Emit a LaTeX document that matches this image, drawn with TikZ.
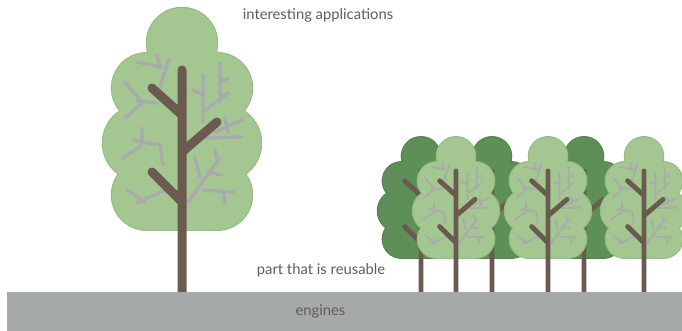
\documentclass[tikz,border=0pt]{standalone}
\usepackage{fontspec}
\setmainfont{Lato}

\definecolor{leafLight}{HTML}{A4C690}
\definecolor{leafLightEdge}{HTML}{95BC82}
\definecolor{leafDark}{HTML}{5E8F57}
\definecolor{leafDarkEdge}{HTML}{52834B}
\definecolor{bark}{HTML}{6A5A50}
\definecolor{twig}{HTML}{A9AAAD}
\definecolor{soil}{HTML}{A6A9A9}
\definecolor{caption}{HTML}{5E5E5E}

\tikzset{
  caption/.style={text=caption, inner sep=0pt, font=\fontsize{14.8}{17}\selectfont},
}

% Crown: a round top plus three horizontal capsules; the edge colour is
% painted first, slightly wider, so it only shows around the outside.
\newcommand\crown[3]{%
  \draw[#2, line width=2.4pt] (182,43) circle[radius=35];
  \foreach \yy/\hx/\rr in {88/35/35, 143/41/38, 195/35/35}
    \draw[#2, line cap=round, line width=(2*\rr*#3)*1pt+2.4pt] (182-\hx,\yy) -- (182+\hx,\yy);
  \fill[#1] (182,43) circle[radius=35];
  \foreach \yy/\hx/\rr in {88/35/35, 143/41/38, 195/35/35}
    \draw[#1, line cap=round, line width=(2*\rr*#3)*1pt] (182-\hx,\yy) -- (182+\hx,\yy);
}

% Thin grey twigs inside the crown
\newcommand\twigs[1]{%
  \draw[twig, line cap=round, line width=(3.4*#1)*1pt]
    (137,62) -- (162,67)  (157,55) -- (160,68)  (169,59) -- (160,87)
    (125,82) -- (140,100) (137,101) -- (157,103) (125,118) -- (145,101)
    (142,128) -- (142,140)
    (123,158) -- (142,145) (133,140) -- (160,145) (160,145) -- (163,165)
    (127,190) -- (145,202) (137,203) -- (165,190)
    (203,75) -- (203,122) (193,90) -- (203,95) (220,63) -- (220,102)
    (220,82) -- (228,78) (228,93) -- (203,112)
    (225,118) -- (228,132) (215,132) -- (242,120) (207,138) -- (242,137)
    (188,202) -- (220,158) (195,158) -- (200,177) (215,150) -- (218,163)
    (208,172) -- (222,175) (203,190) -- (233,192) (223,192) -- (225,203);
}

% Trunk and the three main boughs
\newcommand\boughs[1]{%
  \draw[bark, line cap=round, line width=(9*#1)*1pt]
    (182,70) -- (182,292)
    (152,88) -- (182,115)
    (217,122) -- (182,152)
    (152,172) -- (182,202);
}

% #1 trunk x, #2 scale, #3 leaf colour, #4 edge colour, #5 twigs (1/0)
\newcommand\tree[5]{%
  \begin{scope}[shift={(#1-182*#2, 292-292*#2)}, scale=#2]
    \crown{#3}{#4}{#2}
    \ifnum#5=1 \twigs{#2}\fi
    \boughs{#2}
  \end{scope}
}

\begin{document}
\begin{tikzpicture}[x=1pt, y=-1pt]
  \useasboundingbox (0,0) rectangle (682,331);

  % large tree
  \tree{182}{1}{leafLight}{leafLightEdge}{1}

  % dark row at the back
  \tree{421}{0.545}{leafDark}{leafDarkEdge}{0}
  \tree{492}{0.545}{leafDark}{leafDarkEdge}{0}
  \tree{584}{0.545}{leafDark}{leafDarkEdge}{0}

  % light row in front
  \tree{456}{0.545}{leafLight}{leafLightEdge}{1}
  \tree{548}{0.545}{leafLight}{leafLightEdge}{1}
  \tree{644}{0.545}{leafLight}{leafLightEdge}{1}

  % ground band
  \fill[soil] (7,292) rectangle (682,331);

  \node[caption] (apps) at (318,15) {interesting applications};
  \node[caption] (reuse) at (321,270) {part that is reusable};
  \node[caption] (engines) at (320.5,311) {engines};
\end{tikzpicture}
\end{document}
